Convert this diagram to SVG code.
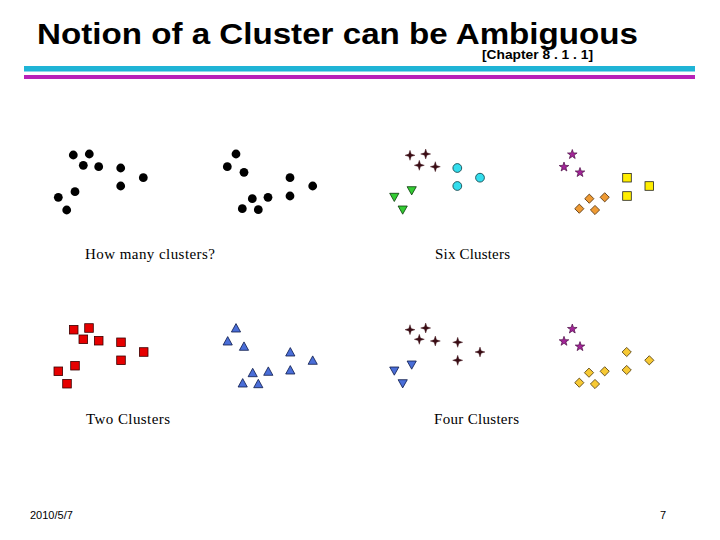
<svg xmlns="http://www.w3.org/2000/svg" xmlns:xlink="http://www.w3.org/1999/xlink" width="720" height="540" viewBox="0 0 720 540">
<style>
.title{font-family:"Liberation Sans",Arial,sans-serif;font-weight:bold;font-size:30px;fill:#000}
.chap{font-family:"Liberation Sans",Arial,sans-serif;font-weight:bold;font-size:12px;fill:#000}
.lbl{font-family:"Liberation Serif","Times New Roman",serif;font-size:15px;fill:#000}
.foot{font-family:"Liberation Sans",Arial,sans-serif;font-size:11px;fill:#000}
.dot{fill:#000}
.cross{fill:#3a0c14;stroke:#3a0c14;stroke-width:0.4}
.cyan{fill:#33dded;stroke:#0a3a40;stroke-width:0.8}
.green{fill:#33cc33;stroke:#0b3a0b;stroke-width:0.8}
.star{fill:#a32598;stroke:#4a0c44;stroke-width:0.7}
.yel{fill:#ffee00;stroke:#222;stroke-width:0.8}
.org{fill:#ee9a33;stroke:#4a2a08;stroke-width:0.8}
.gold{fill:#f7c934;stroke:#4a3508;stroke-width:0.8}
.red{fill:#e60000;stroke:#3a0000;stroke-width:0.8}
.blue{fill:#4a6ed8;stroke:#0c1a4a;stroke-width:0.8}
</style>
<defs>
<circle id="dot" r="4.4"/>
<path id="cross" d="M0,-5 L1.2,-1.2 L5,0 L1.2,1.2 L0,5 L-1.2,1.2 L-5,0 L-1.2,-1.2 Z"/>
<circle id="circ" r="4.4"/>
<path id="tdown" d="M-4.6,-4 L4.6,-4 L0,4.2 Z"/>
<path id="tup" d="M0,-4.4 L4.6,4 L-4.6,4 Z"/>
<path id="star" d="M0,-5 L1.2,-1.6 L4.8,-1.5 L1.9,0.6 L2.9,4 L0,2 L-2.9,4 L-1.9,0.6 L-4.8,-1.5 L-1.2,-1.6 Z"/>
<rect id="sq" x="-4.3" y="-4.3" width="8.6" height="8.6"/>
<path id="dia" d="M0,-4.6 L4.6,0 L0,4.6 L-4.6,0 Z"/>
</defs>

<g id="header">
<text class="title" x="37" y="43.5" textLength="601" lengthAdjust="spacingAndGlyphs">Notion of a Cluster can be Ambiguous</text>
<text class="chap" x="482" y="59" textLength="111" lengthAdjust="spacingAndGlyphs">[Chapter 8 . 1 . 1]</text>
<rect x="24" y="66" width="671" height="5.5" fill="#1fb4d6"/>
<rect x="24" y="75" width="671" height="4" fill="#b822b8"/>
</g>

<g id="panel-how-many">
<g class="dot">
<use xlink:href="#dot" x="73.3" y="155"/>
<use xlink:href="#dot" x="89.3" y="154"/>
<use xlink:href="#dot" x="83.3" y="165.3"/>
<use xlink:href="#dot" x="98.7" y="166.7"/>
<use xlink:href="#dot" x="120.7" y="168"/>
<use xlink:href="#dot" x="120.7" y="186"/>
<use xlink:href="#dot" x="143.3" y="177.7"/>
<use xlink:href="#dot" x="75" y="191.7"/>
<use xlink:href="#dot" x="58.3" y="197.3"/>
<use xlink:href="#dot" x="66.7" y="210"/>
<use xlink:href="#dot" x="236" y="154"/>
<use xlink:href="#dot" x="227.3" y="166.7"/>
<use xlink:href="#dot" x="244" y="172.3"/>
<use xlink:href="#dot" x="290" y="177.7"/>
<use xlink:href="#dot" x="312.7" y="186"/>
<use xlink:href="#dot" x="290" y="196"/>
<use xlink:href="#dot" x="268" y="197.3"/>
<use xlink:href="#dot" x="252.3" y="198.7"/>
<use xlink:href="#dot" x="242.3" y="208.7"/>
<use xlink:href="#dot" x="258.3" y="209.7"/>
</g>
<text class="lbl" x="85" y="259" textLength="130" lengthAdjust="spacing">How many clusters?</text>
</g>

<g id="panel-six">
<g class="cross">
<use xlink:href="#cross" x="410" y="155.3"/>
<use xlink:href="#cross" x="425.7" y="154"/>
<use xlink:href="#cross" x="419.3" y="165.3"/>
<use xlink:href="#cross" x="435.3" y="166.7"/>
</g>
<g class="cyan">
<use xlink:href="#circ" x="457.3" y="168"/>
<use xlink:href="#circ" x="457.3" y="186"/>
<use xlink:href="#circ" x="480" y="177.7"/>
</g>
<g class="green">
<use xlink:href="#tdown" x="394.3" y="197.3"/>
<use xlink:href="#tdown" x="411.7" y="190.7"/>
<use xlink:href="#tdown" x="402.7" y="210"/>
</g>
<g class="star">
<use xlink:href="#star" x="572.3" y="154.5"/>
<use xlink:href="#star" x="564" y="167"/>
<use xlink:href="#star" x="580" y="172.5"/>
</g>
<g class="yel">
<use xlink:href="#sq" x="627" y="177.7"/>
<use xlink:href="#sq" x="649.3" y="186"/>
<use xlink:href="#sq" x="627" y="196"/>
</g>
<g class="org">
<use xlink:href="#dia" x="589.3" y="198.7"/>
<use xlink:href="#dia" x="604.7" y="197.3"/>
<use xlink:href="#dia" x="579.3" y="208.7"/>
<use xlink:href="#dia" x="595" y="210"/>
</g>
<text class="lbl" x="435" y="259" textLength="75" lengthAdjust="spacing">Six Clusters</text>
</g>

<g id="panel-two">
<g class="red">
<use xlink:href="#sq" x="73.7" y="329.7"/>
<use xlink:href="#sq" x="89" y="328"/>
<use xlink:href="#sq" x="83.3" y="339.3"/>
<use xlink:href="#sq" x="98.7" y="340.7"/>
<use xlink:href="#sq" x="121" y="342.3"/>
<use xlink:href="#sq" x="121" y="360.3"/>
<use xlink:href="#sq" x="143.7" y="352"/>
<use xlink:href="#sq" x="75" y="365.7"/>
<use xlink:href="#sq" x="58.3" y="371.3"/>
<use xlink:href="#sq" x="67" y="383.7"/>
</g>
<g class="blue">
<use xlink:href="#tup" x="236" y="328"/>
<use xlink:href="#tup" x="227.7" y="341"/>
<use xlink:href="#tup" x="244" y="346.3"/>
<use xlink:href="#tup" x="290.3" y="352"/>
<use xlink:href="#tup" x="312.7" y="360.3"/>
<use xlink:href="#tup" x="290.3" y="370"/>
<use xlink:href="#tup" x="268.3" y="371.3"/>
<use xlink:href="#tup" x="252.7" y="372.7"/>
<use xlink:href="#tup" x="242.7" y="383"/>
<use xlink:href="#tup" x="258.3" y="383.7"/>
</g>
<text class="lbl" x="86" y="424" textLength="84" lengthAdjust="spacing">Two Clusters</text>
</g>

<g id="panel-four">
<g class="cross">
<use xlink:href="#cross" x="410" y="329.7"/>
<use xlink:href="#cross" x="425.7" y="328"/>
<use xlink:href="#cross" x="419.3" y="339.3"/>
<use xlink:href="#cross" x="435.3" y="341"/>
<use xlink:href="#cross" x="457.7" y="342.3"/>
<use xlink:href="#cross" x="457.7" y="360.3"/>
<use xlink:href="#cross" x="480" y="352"/>
</g>
<g class="blue">
<use xlink:href="#tdown" x="394.3" y="371"/>
<use xlink:href="#tdown" x="411.7" y="365"/>
<use xlink:href="#tdown" x="402.7" y="383.7"/>
</g>
<g class="star">
<use xlink:href="#star" x="572.3" y="329"/>
<use xlink:href="#star" x="564" y="341.3"/>
<use xlink:href="#star" x="580" y="346.6"/>
</g>
<g class="gold">
<use xlink:href="#dia" x="626.7" y="352"/>
<use xlink:href="#dia" x="649.3" y="360.3"/>
<use xlink:href="#dia" x="626.7" y="370"/>
<use xlink:href="#dia" x="604.7" y="371.3"/>
<use xlink:href="#dia" x="589" y="372.7"/>
<use xlink:href="#dia" x="579.3" y="382.7"/>
<use xlink:href="#dia" x="595" y="384"/>
</g>
<text class="lbl" x="434" y="424" textLength="85" lengthAdjust="spacing">Four Clusters</text>
</g>

<g id="footer">
<text class="foot" x="30" y="519">2010/5/7</text>
<text class="foot" x="660" y="519">7</text>
</g>
</svg>
